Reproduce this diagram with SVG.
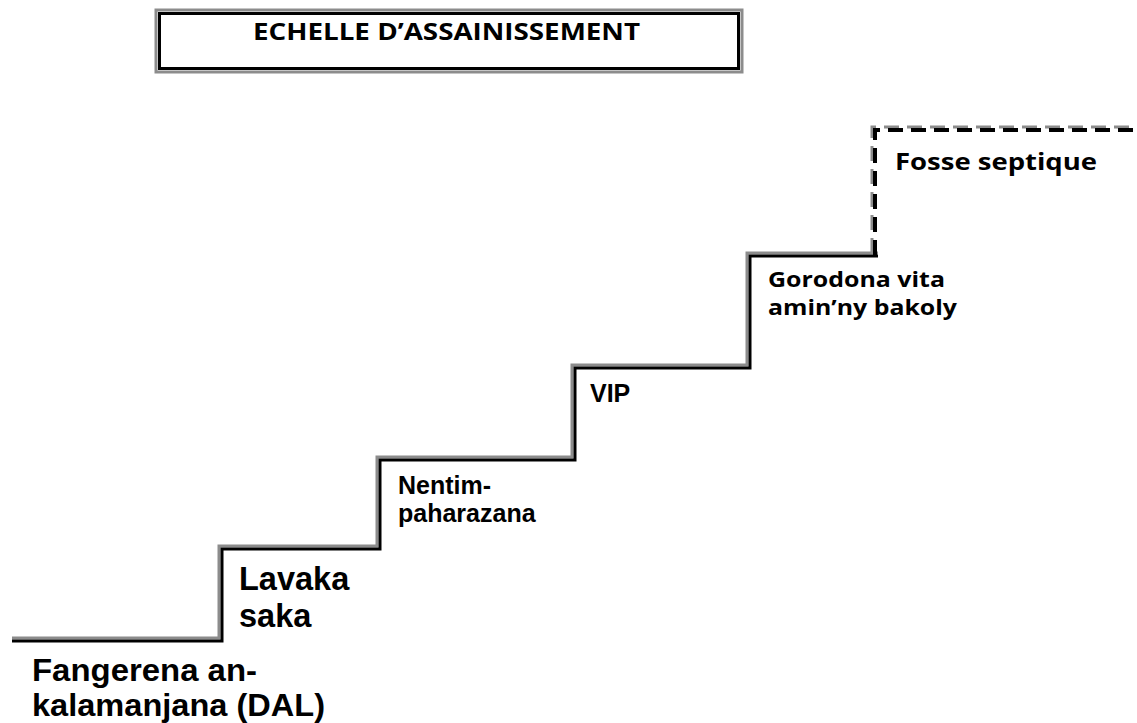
<svg xmlns="http://www.w3.org/2000/svg" width="1137" height="723" viewBox="0 0 1137 723">
<style>
.edge{fill:none;stroke:#000;stroke-width:3;stroke-linejoin:miter}
.halo{fill:none;stroke:#8c8c8c;stroke-width:3;stroke-linejoin:miter}
.dash{fill:none;stroke:#000;stroke-width:4;stroke-dasharray:15 8}
.dhalo{fill:none;stroke:#8c8c8c;stroke-width:3;stroke-dasharray:15 8}
.arial{font-family:"Liberation Sans",Arial,sans-serif;font-weight:bold;fill:#000}
.gill{font-family:"Open Sans","Lato",sans-serif;font-weight:bold;fill:#000}
</style>
<rect width="1137" height="723" fill="#fff"/>
<g id="title">
<rect x="156" y="10" width="586" height="62" fill="#fff" stroke="#8c8c8c" stroke-width="3"/>
<rect x="159.5" y="13.5" width="579" height="55" fill="none" stroke="#000" stroke-width="3"/>
<text x="253" y="40" class="gill" font-size="23" textLength="387" lengthAdjust="spacingAndGlyphs">ECHELLE D’ASSAINISSEMENT</text>
</g>
<g id="connectors">
<path class="halo" d="M12,638 H219 V546 H377 V457 H572 V365 H747 V253 H878"/>
<path class="edge" d="M12,641 H222 V549 H380 V460 H575 V368 H750 V256 H878"/>
<path class="dhalo" d="M872,253 V127 H1137"/>
<path class="dash" d="M875,255 V130 H1137"/>
</g>
<g id="n1"><text class="arial" font-size="31.5"><tspan x="32" y="681" textLength="225" lengthAdjust="spacingAndGlyphs">Fangerena an-</tspan><tspan x="32" y="716" textLength="293" lengthAdjust="spacingAndGlyphs">kalamanjana (DAL)</tspan></text></g>
<g id="n2"><text class="arial" font-size="32.5"><tspan x="239" y="590">Lavaka</tspan><tspan x="239" y="627">saka</tspan></text></g>
<g id="n3"><text class="arial" font-size="25"><tspan x="398" y="494">Nentim-</tspan><tspan x="398" y="522">paharazana</tspan></text></g>
<g id="n4"><text class="arial" font-size="25" x="590" y="402">VIP</text></g>
<g id="n5"><text class="gill" font-size="21"><tspan x="768" y="287" textLength="177" lengthAdjust="spacingAndGlyphs">Gorodona vita</tspan><tspan x="768" y="315" textLength="189" lengthAdjust="spacingAndGlyphs">amin’ny bakoly</tspan></text></g>
<g id="n6"><text class="gill" font-size="24" x="895" y="170" textLength="202" lengthAdjust="spacingAndGlyphs">Fosse septique</text></g>
</svg>
